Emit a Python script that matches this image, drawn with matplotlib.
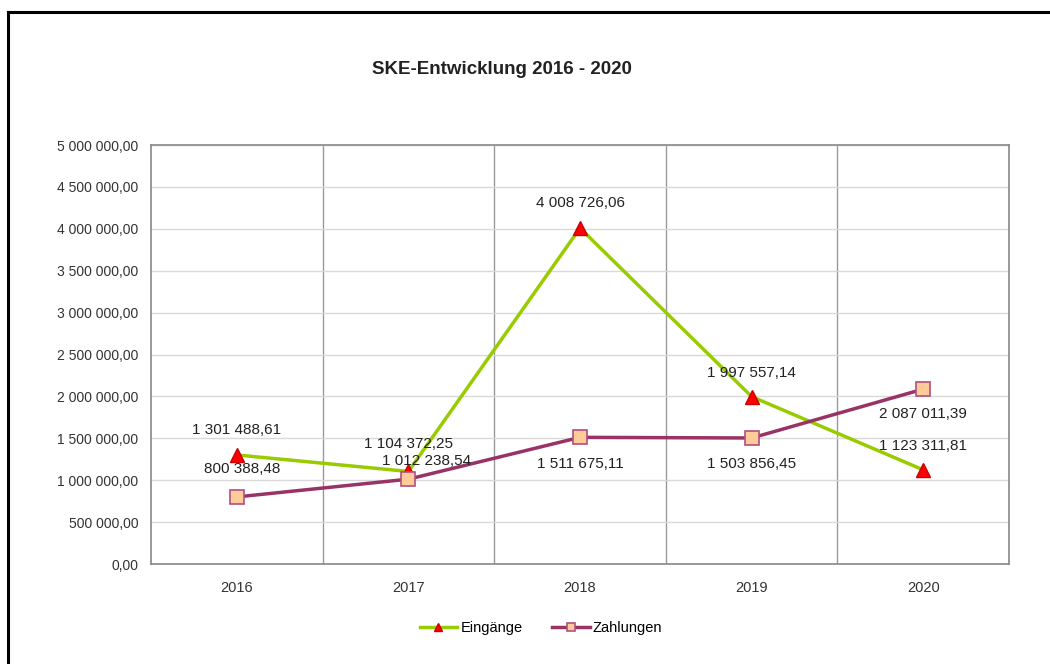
import numpy as np
import matplotlib.pyplot as plt
from matplotlib.lines import Line2D
from matplotlib.ticker import FuncFormatter, MultipleLocator

# data
years = ['2016', '2017', '2018', '2019', '2020']
eingaenge = [1301488.61, 1104372.25, 4008726.06, 1997557.14, 1123311.81]
zahlungen = [800388.48, 1012238.54, 1511675.11, 1503856.45, 2087011.39]

# label offsets in points (dx, dy)
off_ein = [(0, 18), (0, 20), (0, 18), (0, 17), (0, 17)]
off_zah = [(4, 20), (13, 13), (0, -19), (0, -19), (0, -18)]


def de_fmt(v, pos=None):
    s = f'{v:,.2f}'
    return s.replace(',', ' ').replace('.', ',')


plt.rcParams['font.family'] = ['Liberation Sans', 'DejaVu Sans']

fig = plt.figure(figsize=(10.5, 6.64), dpi=100)
ax = fig.add_axes([0.1438, 0.1506, 0.8172, 0.631])

x = np.arange(len(years))
ax.plot(x, eingaenge, color='#99cc00', lw=2.5, marker='^', ms=10,
        mfc='#ff0000', mec='#cc0000', label='Eingänge', zorder=3)
ax.plot(x, zahlungen, color='#993366', lw=2.5, marker='s', ms=10,
        mfc='#ffcc99', mec='#b05080', mew=1.2, label='Zahlungen', zorder=3)

for i in range(len(years)):
    ax.annotate(de_fmt(eingaenge[i]), (x[i], eingaenge[i]), xytext=off_ein[i],
                textcoords='offset points', ha='center', va='center',
                fontsize=11, color='#222222', zorder=4)
    ax.annotate(de_fmt(zahlungen[i]), (x[i], zahlungen[i]), xytext=off_zah[i],
                textcoords='offset points', ha='center', va='center',
                fontsize=11, color='#222222', zorder=4)

ax.set_xlim(-0.5, len(years) - 0.5)
ax.set_ylim(0, 5000000)
ax.yaxis.set_major_locator(MultipleLocator(500000))
ax.yaxis.set_major_formatter(FuncFormatter(de_fmt))
ax.set_xticks(x)
ax.set_xticklabels(years)
ax.set_xticks(np.arange(0.5, len(years) - 0.5), minor=True)
ax.tick_params(axis='both', which='both', length=0, colors='#333333')
ax.tick_params(axis='y', labelsize=10, pad=9)
ax.tick_params(axis='x', labelsize=10.5, pad=12)
ax.grid(axis='y', which='major', color='#d9d9d9', lw=1)
ax.grid(axis='x', which='minor', color='#999999', lw=1)
ax.set_axisbelow(True)
for sp in ax.spines.values():
    sp.set_color('#888888')
    sp.set_linewidth(1.2)

fig.text(0.478, 0.8946, 'SKE-Entwicklung 2016 - 2020', ha='center', va='center',
         fontsize=13.5, fontweight='bold', color='#222222')

ax.legend(loc='center', ncol=2, frameon=False, fontsize=10.5, handlelength=2.6,
          columnspacing=2.0, handletextpad=0.2, markerscale=0.6)
leg = ax.get_legend()
leg.set_bbox_to_anchor((0.515, 0.054), transform=fig.transFigure)

# outer frame (top and left edge of the screenshot border)
W, H = 1050, 664
fig.add_artist(Line2D([8 / W, 1], [1 - 12 / H, 1 - 12 / H], color='black', lw=2.2,
                      transform=fig.transFigure))
fig.add_artist(Line2D([8 / W, 8 / W], [0, 1 - 12 / H], color='black', lw=2.2,
                      transform=fig.transFigure))

fig.savefig('out.png', dpi=100)
